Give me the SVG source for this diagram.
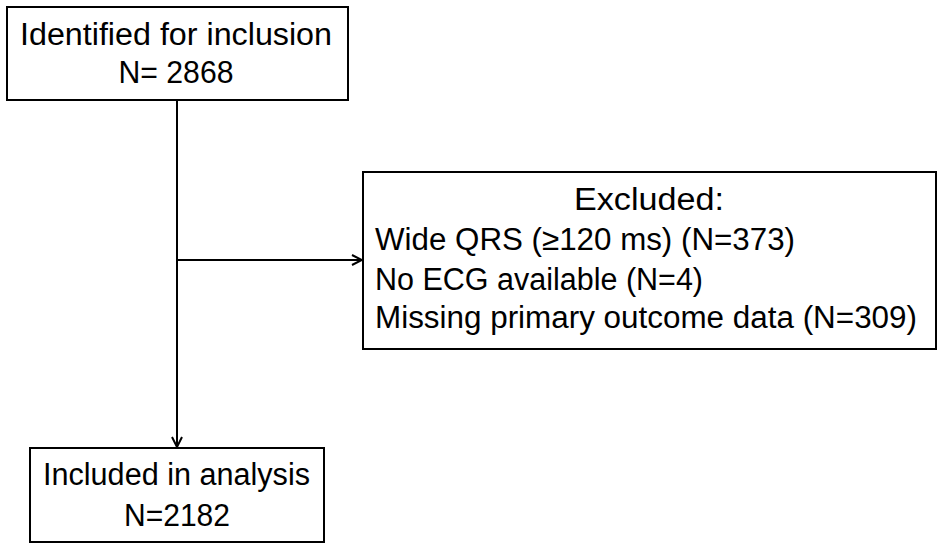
<svg xmlns="http://www.w3.org/2000/svg" width="945" height="551" viewBox="0 0 945 551">
<style>
.box{fill:#fff;stroke:#000;stroke-width:2}
.t{font-family:"Liberation Sans",Arial,sans-serif;font-size:31px;fill:#000}
.c{text-anchor:middle}
.ln{stroke:#000;stroke-width:2;fill:none}
</style>
<defs>
<marker id="ah" viewBox="0 0 12 12" refX="11" refY="6" markerWidth="12" markerHeight="12" markerUnits="userSpaceOnUse" orient="auto">
<path d="M1,1 L11,6 L1,11" fill="none" stroke="#000" stroke-width="2"/>
</marker>
</defs>
<rect width="945" height="551" fill="#fff"/>
<g id="connectors">
<line class="ln" x1="177" y1="100" x2="177" y2="447" marker-end="url(#ah)"/>
<line class="ln" x1="177" y1="260" x2="362" y2="260" marker-end="url(#ah)"/>
</g>
<g id="identified">
<rect class="box" x="7" y="7" width="341" height="93"/>
<text class="t c" x="176" y="45" textLength="312" lengthAdjust="spacingAndGlyphs">Identified for inclusion</text>
<text class="t c" x="176" y="83" textLength="115" lengthAdjust="spacingAndGlyphs">N= 2868</text>
</g>
<g id="excluded">
<rect class="box" x="363" y="172" width="573" height="177"/>
<text class="t c" x="649" y="210" textLength="150" lengthAdjust="spacingAndGlyphs">Excluded:</text>
<text class="t" x="375" y="250" textLength="420" lengthAdjust="spacingAndGlyphs">Wide QRS (≥120 ms) (N=373)</text>
<text class="t" x="375" y="290" textLength="328" lengthAdjust="spacingAndGlyphs">No ECG available  (N=4)</text>
<text class="t" x="375" y="328" textLength="542" lengthAdjust="spacingAndGlyphs">Missing primary outcome data (N=309)</text>
</g>
<g id="included">
<rect class="box" x="30" y="448" width="294" height="94"/>
<text class="t c" x="176.5" y="485" textLength="267" lengthAdjust="spacingAndGlyphs">Included in analysis</text>
<text class="t c" x="177" y="526" textLength="106" lengthAdjust="spacingAndGlyphs">N=2182</text>
</g>
</svg>
